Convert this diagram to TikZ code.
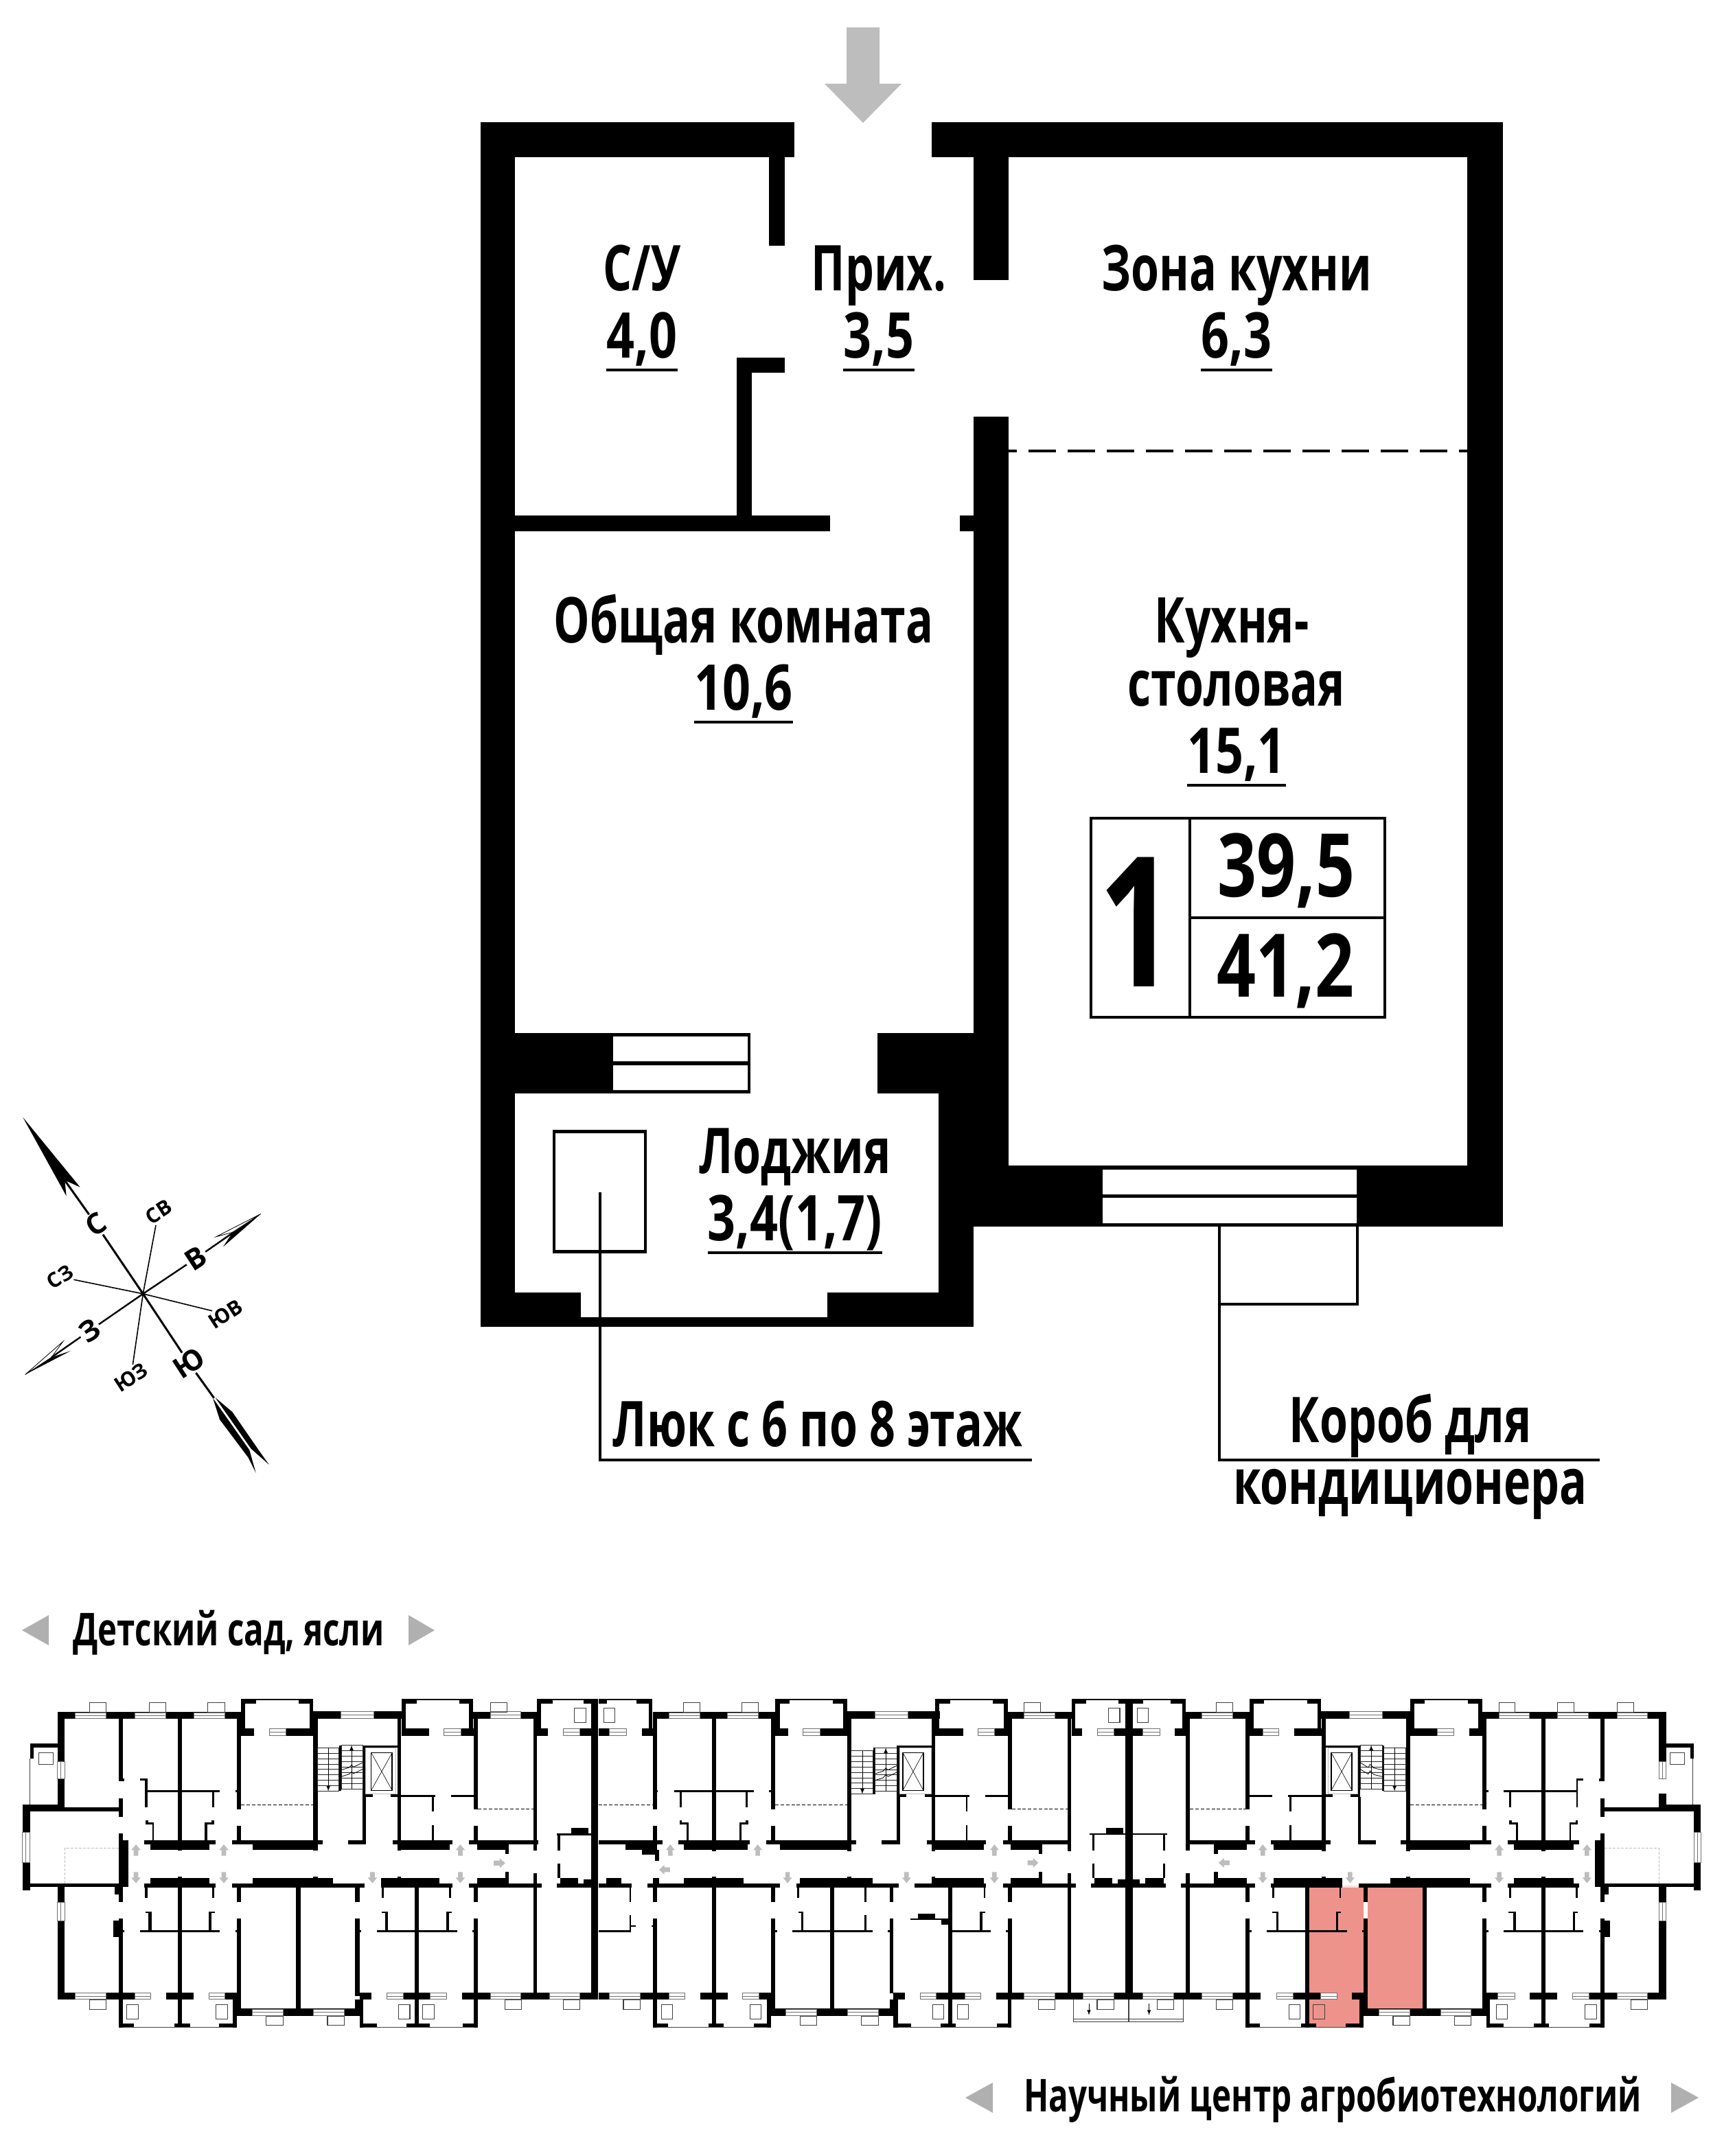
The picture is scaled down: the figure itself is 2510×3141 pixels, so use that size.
\documentclass[tikz,border=0pt]{standalone}
\usepackage{fontspec}
\setmainfont{Open Sans}[FakeStretch=0.72,BoldFont={Open Sans Bold}]
\newfontfamily\valfont{Open Sans}[FakeStretch=0.78,BoldFont={Open Sans Bold}]
\newfontfamily\onefont{Open Sans}[FakeStretch=0.74,BoldFont={Open Sans Bold}]
\newfontfamily\compassfont{Open Sans}
\usetikzlibrary{positioning}

\definecolor{flatred}{HTML}{EE938B}
\definecolor{arrowgray}{HTML}{BDBDBD}
\definecolor{trigray}{HTML}{B0B0B0}
\definecolor{panegray}{HTML}{707070}

\tikzset{
  room/.style={inner sep=0pt,anchor=base,font=\fontsize{46}{46}\selectfont\bfseries},
  roomval/.style={inner sep=0pt,below=49pt of #1.base,anchor=base,font=\valfont\fontsize{46}{46}\selectfont\bfseries},
  arealine/.style={line width=2.25pt},
  leader/.style={line width=1.7pt},
  tbl/.style={line width=1.75pt},
  big/.style={inner sep=0pt,anchor=base,font=\valfont\fontsize{64}{64}\selectfont\bfseries},
  sidetext/.style={inner sep=0pt,anchor=base,font=\fontsize{33}{33}\selectfont\bfseries},
  hatch/.style={draw,line width=2.25pt,inner sep=0pt,minimum width=66.5pt,minimum height=87.5pt},
  compbig/.style={inner sep=1pt,rotate=33,font=\compassfont\fontsize{21}{21}\selectfont\bfseries},
  compsmall/.style={inner sep=1.5pt,rotate=33,font=\compassfont\fontsize{15}{15}\selectfont\bfseries},
  pane/.style={draw=panegray,line width=0.5pt,fill=white},
  thinbox/.style={draw=black!75,line width=0.55pt},
  tread/.style={draw=black!85,line width=0.5pt},
  flatdash/.style={line width=0.55pt,dash pattern=on 2.5pt off 1.4pt},
  voiddash/.style={draw=arrowgray,line width=0.4pt,dash pattern=on 2pt off 1pt},
  keya/.style={shift={(0,2440)},x=0.5pt/1.7422,y=-0.5pt/2.8},
  keyb/.style={shift={(850,2440)},x=0.5pt/1.8447,y=-0.5pt/2.8},
  keyc/.style={shift={(1650,2440)},x=0.5pt/1.8233,y=-0.5pt/2.8},
}

\newcommand{\walls}[1]{\foreach \xa/\ya/\xb/\yb in {#1} \fill (\xa,\ya) rectangle (\xb,\yb);}
\newcommand{\boxes}[1]{\foreach \xa/\ya/\xb/\yb in {#1} \draw[thinbox] (\xa,\ya) rectangle (\xb,\yb);}
\newcommand{\panes}[3]{\foreach \xa/\xb in {#3} {\draw[pane] (\xa,#1) rectangle (\xb,#2); \draw[pane] (\xa,{(#1+#2)/2}) -- (\xb,{(#1+#2)/2});}}
\newcommand{\sidepane}[3]{\draw[pane] (#1,#2) rectangle ({#1+18},#3); \draw[pane] ({#1+9},#2) -- ({#1+9},#3);}
\newcommand{\flight}[4]{\draw[tread] (#1,#3) rectangle (#2,#4); \foreach \i in {1,...,7} \draw[tread] (#1,{#3+\i*(#4-#3)/8}) -- (#2,{#3+\i*(#4-#3)/8});}
\newcommand{\liftx}[4]{\draw[line width=0.7pt] (#1,#2) rectangle (#3,#4); \draw[line width=0.3pt] (#1,#2) -- (#3,#4) (#3,#2) -- (#1,#4);}
\newcommand{\uparr}[1]{\fill[arrowgray] (#1,692) -- ({#1+12},715) -- ({#1+6},715) -- ({#1+6},738) -- ({#1-6},738) -- ({#1-6},715) -- ({#1-12},715) -- cycle;}
\newcommand{\dnarr}[1]{\fill[arrowgray] (#1,850) -- ({#1+12},827) -- ({#1+6},827) -- ({#1+6},805) -- ({#1-6},805) -- ({#1-6},827) -- ({#1-12},827) -- cycle;}
\newcommand{\rtarr}[2]{\fill[arrowgray] ({#1+29},#2) -- ({#1+15},{#2-20}) -- ({#1+15},{#2-10}) -- (#1,{#2-10}) -- (#1,{#2+10}) -- ({#1+15},{#2+10}) -- ({#1+15},{#2+20}) -- cycle;}
\newcommand{\ltarr}[2]{\fill[arrowgray] (#1,#2) -- ({#1+14},{#2-20}) -- ({#1+14},{#2-10}) -- ({#1+29},{#2-10}) -- ({#1+29},{#2+10}) -- ({#1+14},{#2+10}) -- ({#1+14},{#2+20}) -- cycle;}

\begin{document}
\begin{tikzpicture}[x=0.5pt,y=-0.5pt]
    \useasboundingbox (0,0) rectangle (2510,3141);

    % Flat walls
    \walls{700/178/1157/229, 1357/178/2189/229, 700/178/750/1933, 2137/178/2189/1787,
      1120/229/1143/358, 1418/229/1469/408, 1418/607/1469/1787, 750/751/1209/774,
      1398/751/1418/774, 1073/521/1095/751, 1073/521/1143/543, 750/1505/1093/1593,
      1278/1505/1418/1593, 1367/1593/1418/1933, 1469/1698/2189/1787, 750/1883/846/1933,
      846/1919/1205/1933, 1205/1883/1367/1933}
    \fill[white] (893,1510) rectangle (1089,1546) (893,1552) rectangle (1089,1588)
      (1606,1704) rectangle (1976,1740) (1606,1745) rectangle (1976,1782);
    \draw[line width=2.25pt,dash pattern=on 20pt off 8.5pt,dash phase=14pt] (1469,657) -- (2137,657);
    \fill[arrowgray] (1233,40) -- (1281,40) -- (1281,122) -- (1313,122) -- (1257,179) -- (1201,122) -- (1233,122) -- cycle;

    % Rooms
    \node[room] (su) at (935,423) {С/У}; %
    \node[roomval=su] (suval) {4,0}; %
    \node[room] (prih) at (1280,423) {Прих.}; %
    \node[roomval=prih] (prihval) {3,5}; %
    \node[room] (zona) at (1801,423) {Зона кухни}; %
    \node[roomval=zona] (zonaval) {6,3}; %
    \node[room] (obsh) at (1083,936) {Общая комната}; %
    \node[roomval=obsh] (obshval) {10,6}; %
    \node[room] (kuh) at (1794,936) {Кухня-}; %
    \node[room] (stol) at (1801,1028) {столовая}; %
    \node[roomval=stol] (stolval) {15,1}; %
    \node[room] (lodg) at (1158,1709) {Лоджия}; %
    \node[roomval=lodg] (lodgval) {3,4(1,7)}; %
    \foreach \v in {suval,prihval,zonaval,obshval,stolval,lodgval}
      \draw[arealine] ([yshift=-9pt]\v.base west) -- ([yshift=-9pt]\v.base east);

    % Total table
    \draw[tbl] (1589,1192) rectangle (2017,1482) (1733,1192) -- (1733,1482) (1733,1337) -- (2017,1337);
    \node[inner sep=0pt,anchor=base,font=\onefont\fontsize{132}{132}\selectfont\bfseries] (rooms) at (1656,1437) {1}; %
    \node[big] (livearea) at (1873,1306) {39,5}; %
    \node[big] (fullarea) at (1872,1452) {41,2}; %

    % Hatch and duct with leaders
    \node[hatch] (luk) at (873.5,1736) {}; %
    \coordinate (lukin) at (874,1737); %
    \coordinate (lukbend) at (874,2127); %
    \coordinate (lukend) at (1503,2127); %
    \draw[leader] (lukin) -- (lukbend) -- (lukend);
    \node[room] (luktext) at (1191,2107) {Люк с 6 по 8 этаж}; %
    \coordinate (ducta) at (1776,1787); %
    \coordinate (ductb) at (1977,1787); %
    \coordinate (ductc) at (1977,1900); %
    \coordinate (ductd) at (1776,1900); %
    \coordinate (ductbend) at (1776,2127); %
    \coordinate (ductend) at (2330,2127); %
    \draw[leader] (ductb) -- (ductc) -- (ductd);
    \draw[leader] (ducta) -- (ductbend) -- (ductend);
    \node[room] (duct) at (2054,2101) {Короб для}; %
    \node[room] (ducttext) at (2054,2191) {кондиционера}; %

    % Compass
    \begin{scope}[shift={(0,1600)},x=0.5pt/3,y=-0.5pt/2.703]
      \coordinate (o) at (625,770); %
      \node[compbig] (cn) at (420,497) {С}; %
      \node[compbig] (ce) at (857,630) {В}; %
      \node[compbig] (cs) at (825,1042) {Ю}; %
      \node[compbig] (cw) at (392,915) {З}; %
      \node[compsmall] (cne) at (692,447) {СВ}; %
      \node[compsmall] (cnw) at (262,703) {СЗ}; %
      \node[compsmall] (cse) at (985,850) {ЮВ}; %
      \node[compsmall] (csw) at (572,1100) {ЮЗ}; %
      \coordinate (nneck) at (283,323); %
      \coordinate (eneck) at (1020,528); %
      \coordinate (sneck) at (935,1180); %
      \coordinate (wneck) at (225,1020); %
      \draw[line width=1.5pt] (o) -- (cn) (o) -- (cs) (cn) -- (nneck) (cs) -- (sneck);
      \draw[line width=1.2pt] (o) -- (ce) (o) -- (cw) (ce) -- (eneck) (cw) -- (wneck);
      \draw[line width=0.8pt] (o) -- (cne) (o) -- (cnw) (o) -- (cse) (o) -- (csw);
      \fill (100,75) -- (350,350) -- (283,323) -- (290,385) -- cycle;
      \fill (1140,455) -- (1015,530) -- (975,585) -- cycle;
      \draw[line width=0.4pt] (1140,455) -- (945,545) -- (1015,528) -- cycle;
      \fill (110,1088) -- (225,1020) -- (308,995) -- cycle;
      \draw[line width=0.4pt] (110,1088) -- (275,958) -- (225,1020) -- cycle;
      \fill (930,1180) -- (960,1265) -- (1085,1415) -- (1118,1475) -- (1090,1385) -- cycle;
      \fill (940,1178) -- (1015,1235) -- (1130,1385) -- (1175,1442) -- (1097,1380) -- cycle;
    \end{scope}

    % Captions
    \node[sidetext] (south) at (333,2397) {Детский сад, ясли}; %
    \node[sidetext] (north) at (1941,3076) {Научный центр агробиотехнологий}; %
    \fill[trigray] (32,2375) -- (71,2353) -- (71,2397) -- cycle (633,2375) -- (595,2353) -- (595,2397) -- cycle
      (1406,3056) -- (1446,3034) -- (1446,3078) -- cycle (2474,3056) -- (2434,3034) -- (2434,3078) -- cycle;

    % Key plan, left part
    \begin{scope}[keya]
      \walls{146/152/612/180, 146/152/164/355, 146/423/164/545, 76/279/146/296, 76/279/85/342,
        57/530/164/558, 164/541/301/558, 57/530/76/880, 57/850/326/866, 146/866/164/928,
        146/1004/164/1325, 301/180/312/435, 301/424/316/435, 301/503/312/581, 301/648/312/676,
        301/676/326/866, 291/866/301/897, 301/866/312/928, 451/180/462/718, 601/180/612/548,
        601/615/612/676, 368/424/375/540, 355/424/375/430, 372/470/558/478, 538/478/544/540,
        598/470/606/478, 386/603/391/676, 370/603/391/610, 370/593/376/607, 520/603/526/676,
        520/603/543/610, 537/593/543/607, 366/676/547/693, 382/693/531/715, 588/676/818/693,
        641/693/796/715, 795/180/806/718, 795/148/1020/180}
      \walls{612/98/622/218, 612/98/795/104, 612/98/650/117, 758/98/795/117, 785/98/795/218,
        612/218/645/248, 683/218/795/248, 1020/98/1030/218, 1020/98/1200/104, 1020/98/1058/117,
        1166/98/1200/117, 1190/98/1200/218, 1020/218/1088/248, 1127/218/1202/248,
        1200/152/1363/180, 1363/98/1373/218, 1363/98/1500/104, 1363/98/1403/117, 1480/98/1500/117,
        1363/218/1390/248, 1430/218/1500/248, 1500/98/1518/1325}
      \walls{1008/180/1018/718, 860/287/866/474, 920/287/1018/297, 920/287/928/498, 928/488/946/498,
        991/488/1018/498, 920/498/928/692, 883/676/926/692, 997/676/1148/693, 1014/693/1141/715,
        1018/490/1105/497, 1096/497/1101/556, 1145/490/1202/497, 1096/612/1101/676,
        1202/180/1213/548, 1202/615/1213/676, 1189/676/1365/692, 1211/692/1282/715,
        1282/692/1291/730, 1353/180/1363/718, 1413/647/1500/654, 1450/624/1493/647,
        1415/654/1421/718, 1415/770/1421/830}
      \walls{366/850/547/867, 382/828/531/850, 451/822/462/850, 588/850/925/867, 641/828/845/850,
        795/822/806/850, 967/850/1148/867, 967/828/1115/850, 1008/822/1018/850, 1189/850/1375/867,
        1211/828/1282/850, 1282/805/1291/850, 1353/810/1363/850, 1413/850/1500/867,
        1421/828/1467/850, 1480/835/1500/850}
      \walls{368/867/375/911, 538/867/544/911, 601/867/612/928, 901/867/912/928, 968/867/974/911,
        1140/867/1145/911, 1202/867/1213/928, 451/867/462/1310, 751/867/763/1362, 1052/867/1063/1310,
        1353/867/1363/1300, 301/995/312/1300, 601/995/612/1310, 901/995/912/1310, 1202/995/1213/1300,
        287/1002/301/1070, 301/1043/315/1050, 377/966/385/1043, 369/966/385/971, 530/966/537/1043,
        530/966/545/971, 355/1043/558/1050, 598/1043/606/1050, 977/966/985/1043, 969/966/985/971,
        1132/966/1140/1043, 1132/966/1146/971, 956/1043/1160/1050, 912/1043/916/1050, 1198/1043/1206/1050}
      \walls{146/1297/342/1325, 422/1297/491/1325, 571/1297/612/1325, 301/1325/312/1440,
        301/1422/340/1440, 451/1325/462/1440, 443/1422/482/1440, 556/1422/601/1440, 591/1325/601/1440,
        601/1362/912/1392, 601/1325/612/1362, 901/1325/912/1362, 912/1297/942/1325, 1023/1297/1092/1325,
        1173/1297/1394/1325, 1472/1297/1500/1325, 912/1325/922/1440, 912/1422/956/1440,
        1032/1422/1090/1440, 1052/1325/1063/1440, 1175/1422/1213/1440, 1202/1325/1213/1440}
      \panes{155}{178}{191/269, 342/421, 492/570}
      \panes{151}{178}{865/948, 1244/1322}
      \panes{220}{247}{683/725, 1127/1169, 1430/1472}
      \panes{1299}{1324}{191/269, 342/383, 530/571, 981/1023, 1092/1133, 1244/1322, 1394/1472}
      \panes{1364}{1390}{640/718, 795/873}
      \sidepane{146}{355}{423} \sidepane{146}{928}{1004}
      \sidepane{57}{643}{767}
      \boxes{227/113/269/152, 379/113/421/152, 527/113/570/152, 1244/113/1287/152, 98/319/135/365,
        1458/135/1487/195, 227/1325/269/1365, 675/1392/718/1430, 831/1392/874/1430, 1281/1325/1323/1365,
        1430/1325/1472/1365, 322/1345/351/1404, 548/1345/577/1404, 1011/1345/1040/1404, 1073/1345/1102/1404}
      \draw[thinbox] (76,342) -- (76,530) (312,1438) -- (591,1438) (922,1438) -- (1202,1438);
      \draw[voiddash] (301,707) -- (165,707) -- (165,850);
      \draw[flatdash] (612,530) -- (795,530) (1213,547) -- (1353,547);
      \flight{806}{860}{298}{474} \flight{866}{920}{287}{465}
      \draw[line width=0.3pt,-latex] (833,298) -- (833,474);
      \draw[line width=0.3pt,-latex] (892,465) -- (892,287);
      \draw[line width=0.4pt] (866,388) -- (886,378) -- (892,368) -- (897,376) -- (920,358) (866,415) -- (886,405) -- (892,395) -- (897,403) -- (920,385);
      \draw[draw=arrowgray,line width=0.4pt] (928,297) rectangle (1004,485);
      \liftx{942}{318}{995}{471}
      \foreach \x in {345,568,1168} {\uparr{\x}}
      \foreach \x in {345,568,945,1168} {\dnarr{\x}}
      \rtarr{1253}{768}
    \end{scope}

    % Key plan, middle part
    \begin{scope}[keyb]
      \walls{40/98/185/104, 40/98/62/117, 142/98/185/117, 175/98/185/218, 40/218/70/248,
        157/218/197/248, 186/152/515/180, 515/98/527/218, 515/98/708/104, 515/98/553/117,
        670/98/708/117, 697/98/708/218, 515/218/550/248, 590/218/720/248, 708/148/958/180,
        945/98/956/218, 945/98/1140/104, 945/98/985/117, 1100/98/1140/117, 1130/98/1140/218,
        945/218/1020/248, 1060/218/1150/248, 1140/152/1311/180, 1311/98/1321/218, 1311/98/1455/104,
        1311/98/1350/117, 1437/98/1455/117, 1311/218/1339/248, 1381/218/1455/248, 1455/98/1476/1325}
      \walls{186/180/197/548, 197/470/200/478, 186/615/197/676, 345/180/356/720, 504/180/515/548,
        499/470/504/478, 504/615/515/676, 708/180/719/720, 935/180/945/720, 1140/180/1151/548,
        1140/615/1151/676, 1300/180/1310/720, 243/470/458/478, 258/478/263/540, 436/478/441/540,
        277/603/282/676, 258/603/282/610, 258/593/264/607, 419/603/424/676, 419/603/442/610,
        436/593/442/607, 40/676/212/693, 112/693/197/715, 157/715/203/733, 192/715/203/760,
        255/676/446/693, 270/693/441/715, 490/676/733/693, 527/693/708/715}
      \walls{778/298/784/486, 842/287/945/297, 842/287/850/498, 850/488/868/498, 917/488/945/498,
        842/498/850/692, 801/676/848/692, 922/676/1082/693, 945/693/1075/715, 945/490/1037/497,
        1028/497/1032/556, 1028/612/1032/676, 1079/490/1140/497, 1127/676/1300/693, 1148/693/1223/715,
        1223/693/1233/730, 1360/646/1455/653, 1404/624/1450/646, 1367/653/1372/718, 1367/770/1372/830}
      \walls{40/850/130/867, 60/828/102/850, 172/850/527/867, 270/828/430/850, 186/830/203/850,
        345/822/356/850, 572/850/847/867, 582/828/776/850, 708/822/719/850, 890/850/1082/867,
        945/828/1075/850, 935/822/945/850, 1127/850/1323/867, 1148/828/1223/850, 1223/805/1233/850,
        1300/810/1310/850, 1364/850/1455/867, 1372/828/1420/850, 1435/835/1455/850}
      \walls{123/867/128/928, 186/867/197/928, 504/867/515/928, 574/867/580/911, 755/867/760/928,
        822/867/833/928, 1075/867/1080/911, 1140/867/1151/928, 345/867/356/1300, 663/867/674/1362,
        980/867/991/1300, 1300/867/1310/1300, 186/995/197/1300, 504/995/515/1300, 822/995/833/1300,
        1140/995/1151/1300, 123/980/128/1050, 128/1021/140/1028, 182/1021/186/1028, 40/1043/128/1050,
        584/966/590/1043, 577/966/590/971, 755/980/760/1043, 561/1043/776/1050, 515/1043/520/1050,
        818/1043/822/1050, 879/994/980/1001, 898/974/944/994, 962/1001/980/1018, 1065/966/1072/1043,
        1065/966/1079/971, 991/1043/1094/1050, 1135/1043/1140/1050}
      \walls{40/1297/69/1325, 152/1297/229/1325, 314/1297/387/1325, 471/1297/515/1325, 503/1362/835/1392,
        503/1325/515/1362, 822/1325/835/1362, 833/1297/863/1325, 948/1297/1024/1325, 1108/1297/1184/1325,
        1266/1297/1342/1325, 1425/1297/1455/1325, 186/1325/197/1440, 186/1422/226/1440, 345/1325/356/1440,
        336/1422/377/1440, 457/1422/503/1440, 492/1325/503/1440, 833/1325/845/1440, 833/1422/880/1440,
        960/1422/1000/1440, 980/1325/991/1440, 1110/1422/1150/1440, 1140/1325/1150/1440}
      \panes{155}{178}{230/312, 387/470, 1184/1266}
      \panes{151}{178}{783/872}
      \panes{220}{247}{70/115, 590/635, 1060/1105, 1381/1425}
      \panes{1299}{1324}{69/152, 229/272, 428/471, 905/948, 1024/1067, 1184/1266, 1342/1425}
      \panes{1364}{1390}{544/627, 709/792}
      \boxes{268/113/313/152, 425/113/470/152, 1184/113/1228/152, 54/135/84/195, 1411/135/1441/195,
        582/1392/627/1430, 747/1392/792/1430, 107/1325/152/1365, 1222/1325/1266/1365, 1380/1325/1425/1365,
        209/1345/239/1404, 447/1345/477/1404, 938/1345/968/1404, 1004/1345/1034/1404}
      \draw[thinbox] (197,1438) -- (492,1438) (845,1438) -- (1140,1438);
      \draw[thinbox] (1317,1325) -- (1317,1415) -- (1476,1415) (1317,1404) -- (1476,1404) (1465,1325) -- (1465,1415);
      \draw[line width=0.3pt,-latex] (1358,1342) -- (1358,1388);
      \draw[flatdash] (40,530) -- (186,530) (515,530) -- (708,530) (1151,547) -- (1300,547);
      \flight{719}{778}{310}{486} \flight{784}{842}{298}{475}
      \draw[line width=0.3pt,-latex] (749,310) -- (749,486);
      \draw[line width=0.3pt,-latex] (812,475) -- (812,298);
      \draw[line width=0.4pt] (784,403) -- (805,393) -- (812,380) -- (818,388) -- (842,370) (784,430) -- (805,420) -- (812,407) -- (818,415) -- (842,397);
      \draw[draw=arrowgray,line width=0.4pt] (850,297) rectangle (935,485);
      \liftx{858}{318}{913}{471}
      \foreach \x in {233,468,1104} {\uparr{\x}}
      \foreach \x in {548,868,1104} {\dnarr{\x}}
      \ltarr{203}{795}
      \rtarr{1193}{767}
    \end{scope}

    % Key plan, right part
    \begin{scope}[keyc]
      \fill[flatred] (468,867) rectangle (602,1436) (602,867) rectangle (613,1325) (624,867) rectangle (769,1362);
      \fill[flatred!30] (556,860) rectangle (600,867);
      \walls{0/98/141/104, 0/98/27/117, 100/98/141/117, 131/98/141/218, 0/218/27/248, 112/218/151/248,
        141/152/310/180, 310/98/321/218, 310/98/500/104, 310/98/348/117, 463/98/500/117, 490/98/500/218,
        310/218/345/248, 428/218/512/248, 500/148/748/180, 737/98/748/218, 737/98/928/104, 737/98/775/117,
        890/98/928/117, 917/98/928/218, 737/218/809/248, 893/218/938/248, 928/152/1416/180,
        1397/180/1416/355, 1397/484/1416/545, 1416/279/1490/296, 1480/279/1490/342, 1250/541/1397/558,
        1397/530/1508/558, 1490/530/1508/880, 1250/850/1508/866, 1397/866/1416/928, 1397/1004/1416/1325}
      \walls{1242/180/1253/435, 1238/424/1242/435, 1242/503/1253/581, 1242/648/1253/676, 1227/676/1253/866,
        1253/866/1263/897, 1242/866/1253/928, 1242/995/1253/1300, 1253/1002/1268/1070, 1238/1043/1242/1050,
        141/180/152/718, 299/180/310/548, 299/615/310/676, 501/180/512/720, 725/180/737/720, 928/180/939/548,
        928/615/939/676, 1085/180/1096/720, 310/490/370/497, 412/490/501/497, 416/497/421/556, 416/612/421/676,
        939/470/944/478, 984/470/1177/478, 999/478/1004/540, 1177/424/1182/540, 1177/424/1196/430,
        1018/603/1023/676, 1000/603/1023/610, 1000/593/1006/607, 1159/603/1164/676, 1159/603/1182/610,
        1176/593/1182/607, 0/647/92/653, 80/653/85/718, 80/770/85/830}
      \walls{152/676/324/693, 225/693/302/715, 216/693/226/730, 366/676/525/693, 374/693/512/715, 598/676/645/692,
        712/676/952/693, 725/693/896/715, 995/676/1185/693, 1012/693/1170/715, 662/287/667/474, 512/287/604/297,
        597/287/604/498, 512/488/531/498, 578/488/604/498, 598/498/606/692}
      \walls{0/850/88/867, 0/835/18/850, 32/828/82/850, 128/850/324/867, 141/810/152/850, 216/805/226/850,
        226/828/302/850, 366/850/556/867, 374/828/556/850, 501/822/512/850, 600/850/952/867, 684/828/896/850,
        725/822/737/850, 995/850/1185/867, 1012/828/1170/850, 1085/822/1096/850}
      \walls{141/867/152/1300, 299/867/310/928, 371/867/376/911, 457/867/468/1440, 548/867/552/911, 613/867/624/928,
        769/867/781/1362, 928/867/939/928, 999/867/1004/911, 1176/867/1181/911, 1085/867/1096/1300, 299/995/310/1300,
        613/995/624/1300, 928/995/939/1300, 381/966/387/1043, 371/966/387/971, 539/966/545/1043, 539/966/553/971,
        356/1043/568/1050, 310/1043/315/1050, 609/1043/613/1050, 1011/966/1017/1043, 998/966/1017/971,
        1168/966/1175/1043, 1168/966/1182/971, 985/1043/1197/1050, 939/1043/944/1050}
      \walls{0/1297/27/1325, 109/1297/184/1325, 266/1297/340/1325, 425/1297/499/1325, 582/1297/624/1325,
        613/1362/940/1392, 613/1325/624/1362, 929/1325/940/1362, 929/1297/969/1325, 1054/1297/1127/1325,
        1211/1297/1286/1325, 1367/1297/1416/1325, 299/1325/310/1440, 299/1422/338/1440, 447/1422/487/1440,
        566/1422/613/1440, 602/1325/613/1440, 939/1325/949/1440, 939/1422/985/1440, 1085/1325/1096/1440,
        1065/1422/1105/1440, 1212/1422/1253/1440, 1242/1325/1253/1440}
      \panes{155}{178}{184/266, 972/1053, 1128/1209, 1286/1367}
      \panes{151}{178}{575/662}
      \panes{220}{247}{27/72, 345/388, 809/853}
      \panes{1299}{1324}{27/109, 184/266, 382/425, 499/542, 969/1014, 1168/1211, 1286/1367}
      \panes{1364}{1390}{654/735, 817/898}
      \sidepane{1397}{355}{423} \sidepane{1397}{928}{1004}
      \sidepane{1490}{643}{767}
      \boxes{222/113/266/152, 972/113/1015/152, 1128/113/1172/152, 1286/113/1330/152, 1427/319/1465/365,
        12/135/41/195, 691/1392/735/1430, 854/1392/898/1430, 222/1325/266/1365, 1323/1325/1367/1365, 65/1325/109/1365,
        414/1345/444/1404, 479/1345/509/1404, 965/1345/995/1404, 1201/1345/1231/1404}
      \draw[thinbox] (1487,342) -- (1487,530) (310,1438) -- (457,1438) (468,1438) -- (602,1438) (949,1438) -- (1242,1438);
      \draw[thinbox] (0,1404) -- (134,1404) (0,1415) -- (134,1415) -- (134,1325);
      \draw[line width=0.3pt,-latex] (43,1342) -- (43,1388);
      \draw[voiddash] (1253,707) -- (1397,707) -- (1397,850);
      \draw[flatdash] (152,547) -- (299,547) (737,530) -- (928,530);
      \flight{667}{725}{298}{474} \flight{604}{662}{287}{465}
      \draw[line width=0.3pt,-latex] (695,298) -- (695,474);
      \draw[line width=0.3pt,-latex] (633,465) -- (633,287);
      \draw[line width=0.4pt] (604,358) -- (625,378) -- (630,365) -- (640,380) -- (662,388) (604,385) -- (625,405) -- (630,392) -- (640,407) -- (662,415);
      \draw[draw=arrowgray,line width=0.4pt] (518,297) rectangle (597,485);
      \liftx{527}{318}{582}{471}
      \foreach \x in {345,973,1206} {\uparr{\x}}
      \foreach \x in {345,577,973,1206} {\dnarr{\x}}
      \ltarr{228}{767}
    \end{scope}
\end{tikzpicture}
\end{document}
